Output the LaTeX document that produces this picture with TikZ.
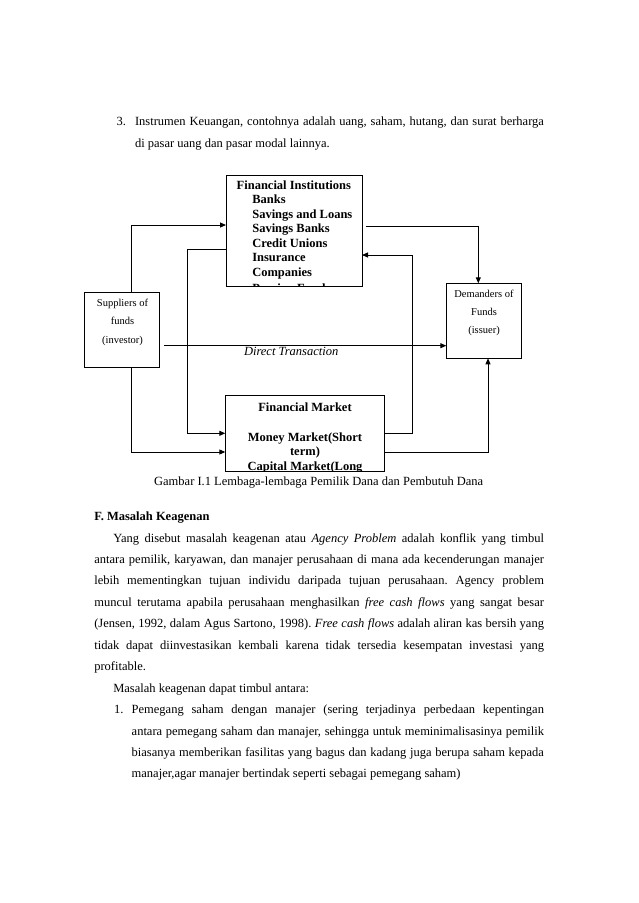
\documentclass[tikz,border=0pt]{standalone}
\usepackage{fontspec}
\setmainfont{Liberation Serif}
\usetikzlibrary{arrows.meta,calc}
\newcommand\JustLine[2]{\hbox to #1pt{\frenchspacing\spaceskip=.25em plus .6em minus .12em\relax\xspaceskip=\spaceskip #2}}
\begin{document}
\begin{tikzpicture}[x=1pt,y=-1pt,
  box/.style={draw, line width=0.9pt, inner sep=0pt, outer sep=0pt, anchor=north west},
  conn/.style={line width=0.9pt, -{Triangle[length=6pt,width=5pt]}},
  txt/.style={inner sep=0pt, outer sep=0pt, anchor=base west, font=\fontsize{12.5}{15}\selectfont},
  ctxt/.style={inner sep=0pt, outer sep=0pt, anchor=base, font=\fontsize{12.5}{15}\selectfont},
  btxt/.style={txt, font=\fontsize{12.5}{15}\selectfont\bfseries},
  cbtxt/.style={ctxt, font=\fontsize{12.5}{15}\selectfont\bfseries},
  stxt/.style={inner sep=0pt, outer sep=0pt, anchor=base, font=\fontsize{10.5}{12}\selectfont},
]
\fill[white] (0,0) rectangle (638,903);
\useasboundingbox (0,0) rectangle (638,903);

% ---- boxes
\node[box, minimum width=136pt, minimum height=111pt] (fi) at (226,175) {};
\node[box, minimum width=75pt, minimum height=75pt] (sup) at (84.3,292.3) {};
\node[box, minimum width=75.5pt, minimum height=75pt] (dem) at (446.3,283.3) {};
\node[box, minimum width=159pt, minimum height=76pt] (fm) at (225.3,395.3) {};

% ---- box texts
\begin{scope}
\clip (fi.north west) rectangle (fi.south east);
\node[btxt] (fi0) at (236.7,189) {Financial Institutions};
\node[btxt] (fi1) at (252.3,203.5) {Banks};
\node[btxt] (fi2) at (252.3,218) {Savings and Loans};
\node[btxt] (fi3) at (252.3,232.5) {Savings Banks};
\node[btxt] (fi4) at (252.3,247) {Credit Unions};
\node[btxt] (fi5) at (252.3,261.5) {Insurance};
\node[btxt] (fi6) at (252.3,276) {Companies};
\node[btxt] (fi7) at (252.3,292.3) {Pension Funds};
\end{scope}
\begin{scope}
\clip (fm.north west) rectangle (fm.south east);
\node[cbtxt] (fm0) at (305,411.5) {Financial Market};
\node[cbtxt] (fm1) at (305,441) {Money Market(Short};
\node[cbtxt] (fm2) at (305,455.5) {term)};
\node[cbtxt] (fm3) at (305,470.5) {Capital Market(Long};
\end{scope}
\node[stxt] (su0) at (122.5,306.5) {Suppliers of};
\node[stxt] (su1) at (122.5,324.5) {funds};
\node[stxt] (su2) at (122.5,343.5) {(investor)};
\node[stxt] (de0) at (484,297.5) {Demanders of};
\node[stxt] (de1) at (484,315.5) {Funds};
\node[stxt] (de2) at (484,333.5) {(issuer)};

% ---- connectors
\coordinate (c1) at (131.7,225);
\draw[conn] (sup.north -| c1) -- (c1) -- (fi.west |- c1);
\coordinate (c2) at (187.3,249);
\coordinate (c3) at (187.3,433.3);
\draw[conn] (fi.west |- c2) -- (c2) -- (c3) -- (fm.west |- c3);
\coordinate (c4) at (131.7,452);
\draw[conn] (sup.south -| c4) -- (c4) -- (fm.west |- c4);
\coordinate (c5) at (478.3,226.7);
\draw[conn, shorten <=4pt] (fi.east |- c5) -- (c5) -- (dem.north -| c5);
\coordinate (c6) at (412.5,433.3);
\coordinate (c7) at (412.5,255);
\draw[conn] (fm.east |- c6) -- (c6) -- (c7) -- (fi.east |- c7);
\coordinate (c8) at (164.3,345.7);
\draw[conn, shorten <=5pt] (sup.east |- c8) -- (dem.west |- c8);
\node[txt, font=\fontsize{12.5}{15}\selectfont\itshape] (dt) at (244,355) {Direct Transaction};
\coordinate (c9) at (488,452);
\draw[conn] (fm.east |- c9) -- (c9) -- (dem.south -| c9);

% ---- page text
\node[txt] (n3) at (116.7,125.7) {3.};
\node[txt] (l1) at (135,125.7) {\JustLine{409}{Instrumen Keuangan, contohnya adalah uang, saham, hutang, dan surat berharga}};
\node[txt] (l2) at (135,147.3) {di pasar uang dan pasar modal lainnya.};
\node[ctxt] (cap) at (318.7,485.7) {Gambar I.1 Lembaga-lembaga Pemilik Dana dan Pembutuh Dana};
\node[btxt] (hf) at (94.3,520.7) {F. Masalah Keagenan};
\node[txt] (p1) at (113.3,542) {\JustLine{430.7}{Yang disebut masalah keagenan atau \textit{Agency Problem} adalah konflik yang timbul}};
\node[txt] (p2) at (94.3,563.45) {\JustLine{449.7}{antara pemilik, karyawan, dan manajer perusahaan di mana ada kecenderungan manajer}};
\node[txt] (p3) at (94.3,584.9) {\JustLine{449.7}{lebih mementingkan tujuan individu daripada tujuan perusahaan. Agency problem}};
\node[txt] (p4) at (94.3,606.35) {\JustLine{449.7}{muncul terutama apabila perusahaan menghasilkan \textit{free cash flows} yang sangat besar}};
\node[txt] (p5) at (94.3,627.8) {\JustLine{449.7}{(Jensen, 1992, dalam Agus Sartono, 1998). \textit{Free cash flows} adalah aliran kas bersih yang}};
\node[txt] (p6) at (94.3,649.25) {\JustLine{449.7}{tidak dapat diinvestasikan kembali karena tidak tersedia kesempatan investasi yang}};
\node[txt] (p7) at (94.3,670.7) {profitable.};
\node[txt] (q1) at (113.3,692.15) {Masalah keagenan dapat timbul antara:};
\node[txt] (n1) at (114,713.6) {1.};
\node[txt] (r1) at (131.7,713.6) {\JustLine{412.3}{Pemegang saham dengan manajer (sering terjadinya perbedaan kepentingan}};
\node[txt] (r2) at (131.7,735.05) {\JustLine{412.3}{antara pemegang saham dan manajer, sehingga untuk meminimalisasinya pemilik}};
\node[txt] (r3) at (131.7,756.5) {\JustLine{412.3}{biasanya memberikan fasilitas yang bagus dan kadang juga berupa saham kepada}};
\node[txt] (r4) at (131.7,777.95) {manajer,agar manajer bertindak seperti sebagai pemegang saham)};
\end{tikzpicture}
\end{document}
